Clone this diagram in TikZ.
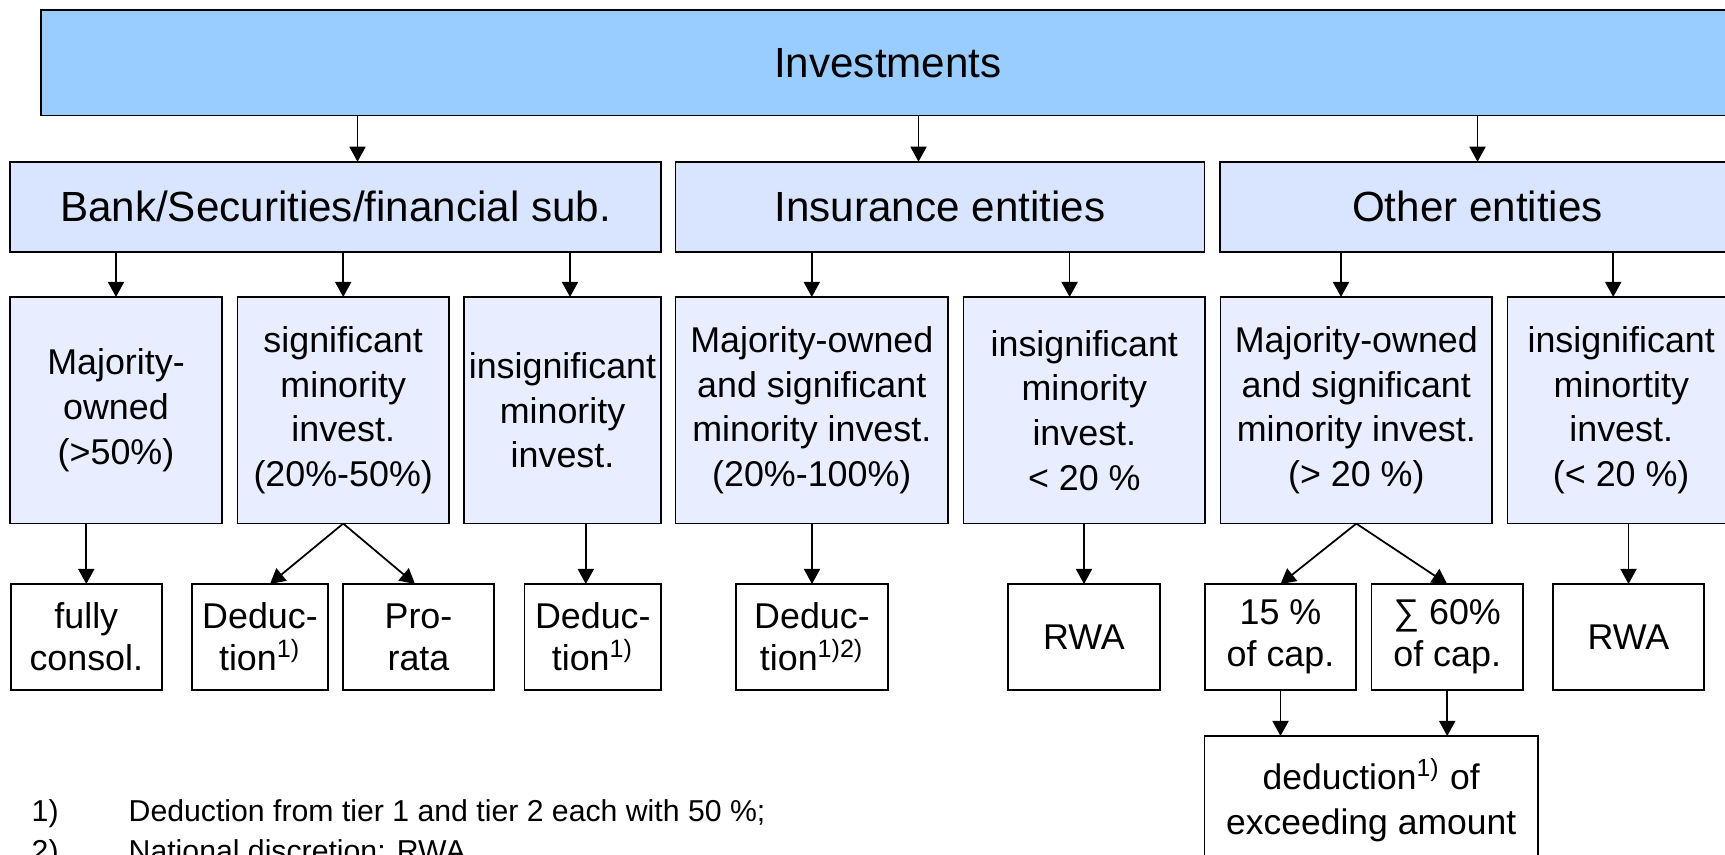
\documentclass[tikz,border=0pt]{standalone}
\usepackage{fontspec}
\setmainfont{Liberation Sans}
\usetikzlibrary{arrows.meta}
\definecolor{invblue}{HTML}{99CCFF}
\definecolor{grpblue}{HTML}{D9E4FF}
\definecolor{subblue}{HTML}{E8EEFF}

\begin{document}
\begin{tikzpicture}[x=0.1mm,y=-0.1mm,
  box/.style={draw,line width=0.5pt,inner sep=0.5pt,outer sep=0pt,align=center},
  topbox/.style={box,fill=invblue,font=\fontsize{12}{14}\selectfont},
  grp/.style={box,fill=grpblue,minimum height=9.03mm,font=\fontsize{12}{14}\selectfont},
  sub/.style={box,fill=subblue,minimum height=22.66mm,font=\fontsize{10.2}{12.7}\selectfont},
  res/.style={box,fill=white,minimum height=10.6mm,font=\fontsize{10.2}{11.9}\selectfont},
  arr/.style={line width=0.5pt,-{Triangle[length=1.5mm,width=1.6mm]}},
  fn/.style={anchor=base west,inner sep=0,font=\fontsize{8.6}{10}\selectfont}]
\useasboundingbox (0,0) rectangle (1725,855);
\clip (0,0) rectangle (1725,855);
\node[topbox,minimum width=169.43mm,minimum height=10.55mm] (inv) at (887.9,62.75) {Investments};
\node[grp,minimum width=65.1mm] (bank) at (335.5,206.9) {Bank/Securities/financial sub.};
\node[grp,minimum width=52.9mm] (ins) at (940,206.9) {Insurance entities};
\node[grp,minimum width=51.5mm] (oth) at (1477.5,206.9) {Other entities};
\node[sub,minimum width=21.2mm] (maj) at (116,410.3) {Majority-\\owned\\(>50\%)};
\node[sub,minimum width=21.15mm] (sig) at (343.2,410.3) {significant\\minority\\invest.\\(20\%-50\%)};
\node[sub,minimum width=19.7mm] (insig) at (562.5,410.3) {insignificant\\minority\\invest.};
\node[sub,minimum width=27.25mm] (insmaj) at (811.8,410.3) {Majority-owned\\and significant\\minority invest.\\(20\%-100\%)};
\node[sub,minimum width=24.15mm] (insmin) at (1084.3,410.3) {insignificant\\minority\\invest.\\< 20 \%};
\node[sub,minimum width=27.15mm] (othmaj) at (1356.3,410.3) {Majority-owned\\and significant\\minority invest.\\(> 20 \%)};
\node[sub,minimum width=22.76mm] (othmin) at (1621.2,410.3) {insignificant\\minortity\\invest.\\(< 20 \%)};
\node[res,minimum width=15.07mm] (consol) at (86.3,637) {fully\\consol.};
\node[res,minimum width=13.6mm] (dedsig) at (260,637) {Deduc-\\tion\textsuperscript{1)}};
\node[res,minimum width=15.1mm] (prorata) at (418.5,637) {Pro-\\rata};
\node[res,minimum width=13.64mm] (dedins) at (592.8,637) {Deduc-\\tion\textsuperscript{1)}};
\node[res,minimum width=15.2mm] (dedmaj) at (812,637) {Deduc-\\tion\textsuperscript{1)2)}};
\node[res,minimum width=15.2mm] (rwaa) at (1084,637) {RWA};
\node[res,minimum width=15.1mm] (capa) at (1280.5,637) {15 \%\\of cap.};
\node[res,minimum width=15.15mm] (capb) at (1447.2,637) {∑ 60\%\\of cap.};
\node[res,minimum width=15.1mm] (rwab) at (1628.5,637) {RWA};
\node[box,fill=white,minimum width=33.33mm,minimum height=12.8mm,font=\fontsize{10.1}{12.8}\selectfont] (excess) at (1371.2,800) {deduction\textsuperscript{1)} of\\exceeding amount};
\coordinate (bankin) at ([xshift=2.2mm]bank.north);
\coordinate (insin) at ([xshift=-2.15mm]ins.north);
\coordinate (insigin) at ([xshift=0.75mm]insig.north);
\coordinate (insminin) at ([xshift=-1.47mm]insmin.north);
\coordinate (othmajin) at ([xshift=-1.53mm]othmaj.north);
\coordinate (othminin) at ([xshift=-0.8mm]othmin.north);
\coordinate (dedsigin) at ([xshift=1mm]dedsig.north);
\coordinate (prorin) at ([xshift=-0.35mm]prorata.north);
\coordinate (dedinsin) at ([xshift=-0.7mm]dedins.north);
\draw[arr] (inv.south -| bankin) -- (bankin);
\draw[arr] (inv.south -| insin) -- (insin);
\draw[arr] (inv.south -| oth.north) -- (oth.north);
\draw[arr] (bank.south -| maj.north) -- (maj.north);
\draw[arr] (bank.south -| sig.north) -- (sig.north);
\draw[arr] (bank.south -| insigin) -- (insigin);
\draw[arr] (ins.south -| insmaj.north) -- (insmaj.north);
\draw[arr] (ins.south -| insminin) -- (insminin);
\draw[arr] (oth.south -| othmajin) -- (othmajin);
\draw[arr] (oth.south -| othminin) -- (othminin);
\draw[arr] (maj.south -| consol.north) -- (consol.north);
\draw[arr] (sig.south) -- (dedsigin);
\draw[arr] (sig.south) -- (prorin);
\draw[arr] (insig.south -| dedinsin) -- (dedinsin);
\draw[arr] (insmaj.south -| dedmaj.north) -- (dedmaj.north);
\draw[arr] (insmin.south -| rwaa.north) -- (rwaa.north);
\draw[arr] (othmaj.south) -- (capa.north);
\draw[arr] (othmaj.south) -- (capb.north);
\draw[arr] (othmin.south -| rwab.north) -- (rwab.north);
\draw[arr] (capa.south) -- (capa.south |- excess.north);
\draw[arr] (capb.south) -- (capb.south |- excess.north);
\node[fn] (fnnum1) at (31,822) {1)};
\node[fn] (fntext1) at (128,822) {Deduction from tier 1 and tier 2 each with 50 \%;};
\node[fn] (fnnum2) at (31,861.5) {2)};
\node[fn] (fntext2) at (128,861.5) {National discretion: RWA};
\end{tikzpicture}
\end{document}
